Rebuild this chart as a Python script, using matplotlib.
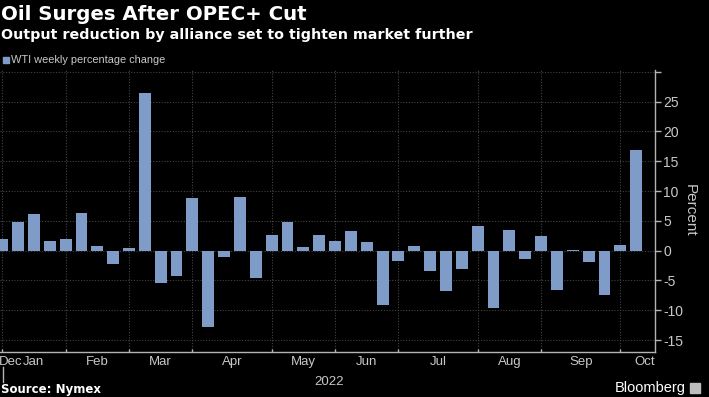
import matplotlib
matplotlib.use("Agg")
import matplotlib.pyplot as plt
import matplotlib.transforms as mtransforms
from matplotlib.patches import Rectangle
import pandas as pd
import numpy as np

title = "Oil Surges After OPEC+ Cut"
subtitle = "Output reduction by alliance set to tighten market further"
series_name = "WTI weekly percentage change"
source = "Source: Nymex"
y_label = "Percent"
year_label = "2022"

start_week = "2021-12-31"
values = [1.9, 4.8, 6.2, 1.6, 2.0, 6.3, 0.8, -2.3, 0.5, 26.4,
          -5.5, -4.2, 8.8, -12.8, -1.0, 8.95, -4.6, 2.6, 4.8, 0.6,
          2.6, 1.6, 3.3, 1.5, -9.2, -1.8, 0.7, -3.4, -6.8, -3.0,
          4.2, -9.7, 3.5, -1.4, 2.5, -6.6, 0.05, -1.9, -7.5, 0.9,
          16.8]
y_ticks = [-15, -10, -5, 0, 5, 10, 15, 20, 25, 30]
y_tick_labels = ["-15", "-10", "-5", "0", "5", "10", "15", "20", "25", ""]

BG = "#000000"
BAR = "#7f9bc8"
GRID = "#444444"
AX = "#b4b4b4"
TXT = "#c8c8c8"

narrow = ["Liberation Sans", "DejaVu Sans"]

W, H = 709, 397
fig = plt.figure(figsize=(W / 100, H / 100), dpi=100, facecolor=BG)
ax = fig.add_axes([0, 45 / H, 655 / W, (352 - 70) / H], facecolor=BG)

dates = pd.date_range(start_week, periods=len(values), freq="W-FRI")
x = np.arange(len(values))
ax.bar(x, values, width=0.75, color=BAR, zorder=3)

xmin, xmax = -0.14, 41.19
ax.set_xlim(xmin, xmax)
ax.set_ylim(-17, 30.3)

# month boundaries: last weekly point of each month
ext = pd.date_range(start_week, "2022-10-31", freq="W-FRI")
months = ext.to_period("M")
bounds = []
labels = []
prev_end = None
for m in months.unique():
    idx = np.where(months == m)[0]
    end = idx.max()
    start = prev_end if prev_end is not None else idx.min() - 4
    labels.append((m.strftime("%b"), (start + end) / 2))
    if end < len(values):
        bounds.append(end)
    prev_end = end

ax.set_xticks(bounds, minor=True)
ax.set_xticks([])
for b in bounds:
    ax.axvline(b, color=GRID, lw=0.8, ls=(0, (1, 1.5)), zorder=1)
ax.tick_params(axis="x", which="minor", direction="in", length=2.5, color=AX, width=1)

for name, pos in labels:
    p = min(max(pos, xmin + 0.68), xmax - 0.65)
    ax.text(p, -0.015, name, transform=ax.get_xaxis_transform(), ha="center", va="top",
            color=TXT, fontsize=9.5, family=narrow)
ax.text((0 + xmax) / 2, -0.085, year_label, transform=ax.get_xaxis_transform(), ha="center",
        va="top", color=TXT, fontsize=9.5, family=narrow)
trans = mtransforms.blended_transform_factory(ax.transData, fig.transFigure)
fig.add_artist(plt.Line2D([0.05, 0.05], [1 - 367 / H, 1 - 382 / H], transform=trans,
                          color=AX, lw=1))

ax.yaxis.tick_right()
ax.set_yticks(y_ticks)
ax.set_yticklabels(y_tick_labels, family=narrow, fontsize=10, color=TXT)
ax.tick_params(axis="y", direction="out", length=4, color=AX, width=1, pad=2)
for yt in y_ticks:
    ax.axhline(yt, color=GRID, lw=0.8, ls=(0, (1, 1.5)), zorder=1)

for s in ["top", "left"]:
    ax.spines[s].set_visible(False)
ax.spines["right"].set_color(AX)
ax.spines["bottom"].set_color(AX)
ax.spines["right"].set_linewidth(1)
ax.spines["bottom"].set_linewidth(1)

fig.text(690 / W, 1 - 210 / H, y_label, rotation=270, ha="center", va="center",
         color=TXT, fontsize=11, family=narrow)

fig.text(1 / W, 1 - 14 / H, title, ha="left", va="center", color="white",
         fontsize=14.2, fontweight="bold", family="DejaVu Sans")
fig.text(1 / W, 1 - 35 / H, subtitle, ha="left", va="center", color="white",
         fontsize=10.25, fontweight="bold", family="DejaVu Sans")
fig.add_artist(Rectangle((3 / W, 1 - 63 / H), 6 / W, 6 / H, transform=fig.transFigure,
                         color=BAR))
fig.text(11 / W, 1 - 60 / H, series_name, ha="left", va="center", color=TXT,
         fontsize=7.9, family=narrow)
fig.text(1 / W, 1 - 390 / H, source, ha="left", va="center", color="white",
         fontsize=8.5, fontweight="bold", family="DejaVu Sans")
fig.text(686 / W, 1 - 388 / H, "Bloomberg", ha="right", va="center", color="white",
         fontsize=10.5, family=narrow)
fig.add_artist(Rectangle((690 / W, 1 - 393 / H), 10 / W, 10 / H, transform=fig.transFigure,
                         color="#bdbdbd"))

fig.savefig("out.png", dpi=100, facecolor=BG)
